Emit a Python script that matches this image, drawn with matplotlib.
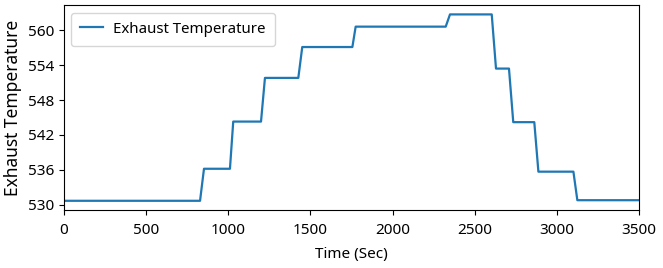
import matplotlib
matplotlib.use('Agg')
import matplotlib.pyplot as plt

plt.rcParams['font.family'] = ['Noto Sans', 'DejaVu Sans']

# breakpoints of the stepped exhaust temperature profile
time_sec = [0, 828, 852, 1010, 1030, 1199, 1223, 1426, 1450, 1755, 1775,
            2323, 2349, 2603, 2629, 2708, 2734, 2862, 2887, 3100, 3124, 3500]
exhaust_temp = [530.7, 530.7, 536.2, 536.2, 544.3, 544.3, 551.8, 551.8, 557.1, 557.1, 560.6,
                560.6, 562.7, 562.7, 553.4, 553.4, 544.2, 544.2, 535.7, 535.7, 530.8, 530.8]
y_ticks = [530, 536, 542, 548, 554, 560]

fig = plt.figure(figsize=(6.63, 2.68), dpi=100)
ax = fig.add_axes([0.0965, 0.216, 0.8675, 0.765])

ax.plot(time_sec, exhaust_temp, color='#1f77b4', linewidth=1.6, label='Exhaust Temperature')
ax.set_xlim(0, 3500)
ax.set_yticks(y_ticks)
ax.tick_params(labelsize=11)
ax.tick_params(axis='x', pad=6)
ax.set_xlabel('Time (Sec)', fontsize=11, labelpad=6)
ax.set_ylabel('Exhaust Temperature', fontsize=12.5)
ax.legend(loc='upper left', fontsize=10.8, borderpad=0.6, handlelength=1.5, handletextpad=0.7)

plt.savefig('out.png', dpi=100)
